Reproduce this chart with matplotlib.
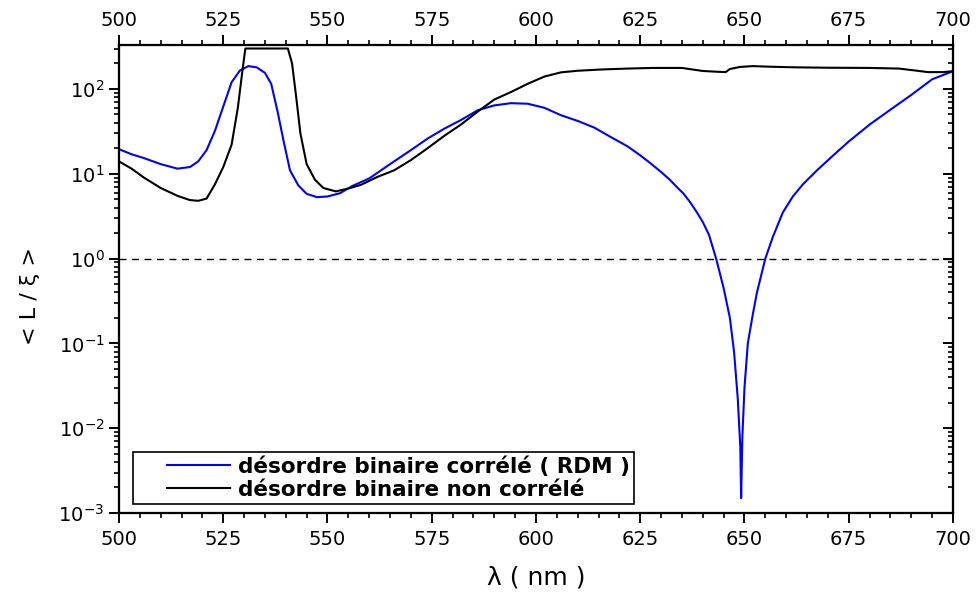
import numpy as np
import matplotlib
matplotlib.use("Agg")
import matplotlib.pyplot as plt
from matplotlib.ticker import LogLocator, MultipleLocator, NullFormatter
from matplotlib.legend_handler import HandlerLine2D

plt.rcParams['font.family'] = ['DejaVu Sans']
plt.rcParams['mathtext.fontset'] = 'dejavusans'

# correlated binary disorder (RDM)
wl_rdm = [500, 503, 506, 510, 514, 517, 519, 521, 523, 525, 527, 529, 531, 533,
          535, 536.5, 538, 539.5, 541, 543, 545, 547.5, 550, 553, 556, 560, 565,
          570, 574, 578, 582, 586, 590, 594, 598, 602, 606, 610, 614, 618, 622,
          625, 627.3, 630, 632.1, 634, 635.3, 637, 638.6, 640, 641.5, 643.2, 645,
          646.5, 647.5, 648.4, 649.0, 649.2, 649.5, 650.0, 650.8, 652, 653, 655,
          656.8, 659.2, 661.6, 664, 667.4, 671, 675, 680, 685, 690, 695, 700]
L_rdm = [19.5, 17, 15.3, 13, 11.5, 12, 14, 19, 32, 62, 120, 165, 186, 180,
         155, 115, 55, 24, 11, 7.3, 5.8, 5.3, 5.4, 5.9, 7.2, 8.8, 13,
         19, 26, 34, 43, 56, 64, 68, 67, 60, 49, 42, 35, 27, 21,
         16.5, 13.5, 10.5, 8.5, 6.8, 5.9, 4.6, 3.5, 2.7, 1.9, 1.0, 0.45,
         0.2, 0.08, 0.022, 0.006, 0.0015, 0.008, 0.03, 0.1, 0.22, 0.4, 1.0,
         1.8, 3.5, 5.4, 7.5, 11, 16, 24, 38, 57, 85, 130, 162]

# uncorrelated binary disorder
wl_unc = [500, 503, 506, 510, 514, 517, 519, 521, 523, 525, 527, 528.5, 529.5,
          530.3, 540.5, 541.5, 542.5, 543.5, 545, 547, 549, 552, 555, 558, 562,
          566, 570, 574, 578, 582, 586, 590, 594, 598, 602, 606, 610, 616, 622,
          628, 635, 640, 643, 645.5, 646.5, 649, 652, 656, 662, 670, 680, 687,
          691, 694, 697.6, 700]
L_unc = [14, 11.5, 9, 6.8, 5.5, 4.9, 4.8, 5.1, 7.5, 12, 22, 60, 150,
         300, 300, 200, 80, 30, 13, 8.5, 6.8, 6.2, 6.7, 7.4, 9.2,
         11, 14.5, 20, 28, 38, 54, 75, 92, 115, 140, 157, 164, 170, 174,
         177, 177, 163, 160, 158, 172, 182, 186, 183, 180, 178, 177, 174,
         165, 158, 158, 162]

fig = plt.figure(figsize=(9.77, 5.92), dpi=100)
ax = fig.add_axes([0.1218, 0.1334, 0.8536, 0.7906])

ax.plot(wl_rdm, L_rdm, color='#0000ff', lw=1.5, label='désordre binaire corrélé ( RDM )')
ax.plot(wl_unc, L_unc, color='black', lw=1.5, label='désordre binaire non corrélé')
ax.axhline(1, color='black', lw=1.0, ls=(0, (5, 4)))

ax.set_yscale('log')
ax.set_xlim(500, 700)
ax.set_ylim(1e-3, 330)

ax.xaxis.set_major_locator(MultipleLocator(25))
ax.xaxis.set_minor_locator(MultipleLocator(5))
ax.yaxis.set_major_locator(LogLocator(base=10, numticks=20))
ax.yaxis.set_minor_locator(LogLocator(base=10, subs=np.arange(2, 10), numticks=20))
ax.yaxis.set_minor_formatter(NullFormatter())
ax.tick_params(which='major', direction='out', length=7, width=1.4, labelsize=14)
ax.tick_params(which='minor', direction='out', length=3.6, width=1.2)
ax.tick_params(axis='x', pad=5)

# top axis with labels, right axis with inward ticks only
axt = ax.twiny()
axt.set_xlim(ax.get_xlim())
axt.xaxis.set_major_locator(MultipleLocator(25))
axt.xaxis.set_minor_locator(MultipleLocator(5))
axt.tick_params(which='major', direction='out', length=7, width=1.4, labelsize=14)
axt.tick_params(which='minor', direction='out', length=3.6, width=1.2)

axr = ax.twinx()
axr.set_yscale('log')
axr.set_ylim(ax.get_ylim())
axr.yaxis.set_major_locator(LogLocator(base=10, numticks=20))
axr.yaxis.set_minor_locator(LogLocator(base=10, subs=np.arange(2, 10), numticks=20))
axr.tick_params(which='both', direction='in', labelright=False)
axr.tick_params(which='major', length=7, width=1.4)
axr.tick_params(which='minor', length=3.6, width=1.2)

for a in (ax, axt, axr):
    for s in a.spines.values():
        s.set_linewidth(1.5)

ax.set_xlabel('λ ( nm )', fontsize=18, labelpad=12)
ax.set_ylabel('< L / ξ >', fontsize=16)
ax.yaxis.set_label_coords(-0.095, 0.464)

leg = ax.legend(loc='lower left', bbox_to_anchor=(0.0168, 0.0192), borderaxespad=0,
                fancybox=False, edgecolor='black', framealpha=1,
                handlelength=4.31, handletextpad=0.37, borderpad=0.2, labelspacing=0.135,
                handler_map={plt.Line2D: HandlerLine2D(xpad=1.38)},
                prop={'weight': 'bold', 'size': 15.5})
leg.get_frame().set_linewidth(1.2)

fig.savefig('out.png', dpi=100)
